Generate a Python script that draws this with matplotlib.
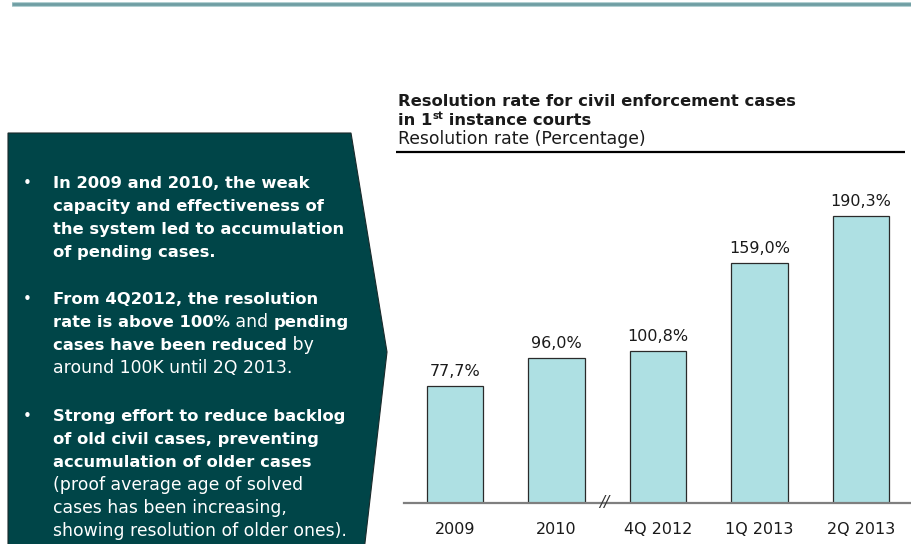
import matplotlib
matplotlib.use("Agg")
import matplotlib.pyplot as plt
from matplotlib.patches import Polygon, Rectangle

categories = ["2009", "2010", "4Q 2012", "1Q 2013", "2Q 2013"]
values = [77.7, 96.0, 100.8, 159.0, 190.3]
value_labels = ["77,7%", "96,0%", "100,8%", "159,0%", "190,3%"]

title_line1 = "Resolution rate for civil enforcement cases"
title_line2 = [("in 1", "bold", 0), ("st", "bold", 1), (" instance courts", "bold", 0)]
subtitle = "Resolution rate (Percentage)"

bullets = [
    [[("In 2009 and 2010, the weak", "bold")],
     [("capacity and effectiveness of", "bold")],
     [("the system led to accumulation", "bold")],
     [("of pending cases.", "bold")]],
    [[("From 4Q2012, the resolution", "bold")],
     [("rate is above 100%", "bold"), (" and ", "normal"), ("pending", "bold")],
     [("cases have been reduced", "bold"), (" by", "normal")],
     [("around 100K until 2Q 2013.", "normal")]],
    [[("Strong effort to reduce backlog", "bold")],
     [("of old civil cases, preventing", "bold")],
     [("accumulation of older cases", "bold")],
     [("(proof average age of solved", "normal")],
     [("cases has been increasing,", "normal")],
     [("showing resolution of older ones).", "normal")]],
]

W, H = 912, 544
fig = plt.figure(figsize=(W / 100, H / 100), dpi=100)
ov = fig.add_axes([0, 0, 1, 1])
ov.set_xlim(0, W)
ov.set_ylim(H, 0)
ov.axis("off")

# top rule
ov.add_patch(Rectangle((12, 1.8), W - 12, 5, color="#b3d0d2", lw=0))
ov.plot([12, W], [4.3, 4.3], color="#6f9ea3", lw=2.0, solid_capstyle="butt")

# dark arrow panel
poly = Polygon([[8, 133], [351, 133], [387, 352], [363, 560], [8, 560]],
               closed=True, facecolor="#004548", edgecolor="#1a2a2b", lw=0.8)
ov.add_patch(poly)

renderer = fig.canvas.get_renderer()
FONT = "DejaVu Sans"
SIZE_BOLD = 11.75
SIZE_NORMAL = 12.4


def draw_segments(x, y, segs, color):
    cx = x
    for s in segs:
        txt, weight = s[0], s[1]
        sup = s[2] if len(s) > 2 else 0
        size = SIZE_BOLD if weight == "bold" else SIZE_NORMAL
        fs = size * (0.62 if sup else 1.0)
        yy = y - (size * 0.5 if sup else 0)
        t = ov.text(cx, yy, txt, fontsize=fs, fontweight=weight, color=color,
                    family=FONT, va="baseline", ha="left")
        bb = t.get_window_extent(renderer=renderer)
        cx += bb.width


bullet_tops = [188, 304, 421]
line_h = 23.1
for bi, lines in enumerate(bullets):
    y0 = bullet_tops[bi]
    ov.text(23, y0, "\u2022", fontsize=11, color="white", family=FONT, va="baseline")
    for li, segs in enumerate(lines):
        draw_segments(53, y0 + li * line_h, segs, "white")

# titles
ov.text(398, 106.5, title_line1, fontsize=SIZE_BOLD, fontweight="bold",
        color="#1a1a1a", family=FONT, va="baseline")
draw_segments(398, 125, title_line2, "#1a1a1a")
ov.text(398, 143.5, subtitle, fontsize=SIZE_NORMAL, color="#1a1a1a", family=FONT,
        va="baseline")
ov.plot([396, 905], [152, 152], color="black", lw=1.6, solid_capstyle="butt")

# bar chart axes
px_per_unit = 101.5
x0_px = 455
left_px, right_px = 404, 912
top_px, base_px = 160, 503
px_per_pct = (503 - 216) / 190.3
ax = fig.add_axes([left_px / W, (H - base_px) / H, (right_px - left_px) / W,
                   (base_px - top_px) / H])
ax.patch.set_alpha(0)
xs = list(range(len(categories)))
ax.bar(xs, values, width=0.56, color="#aee0e3", edgecolor="#2a2a2a", lw=0.9, zorder=2)
ax.set_xlim((left_px - x0_px) / px_per_unit, (right_px - x0_px) / px_per_unit)
ax.set_ylim(0, (base_px - top_px) / px_per_pct)
for sp in ["top", "right", "left"]:
    ax.spines[sp].set_visible(False)
ax.spines["bottom"].set_color("#7f7f7f")
ax.spines["bottom"].set_linewidth(1.6)
ax.set_yticks([])
ax.set_xticks(xs)
ax.set_xticklabels(categories, fontsize=11.5, family=FONT, color="#1a1a1a")
ax.tick_params(axis="x", length=0, pad=14)
for x, v, lab in zip(xs, values, value_labels):
    ax.annotate(lab, (x, v), xytext=(0, 5), textcoords="offset points",
                ha="center", va="bottom", fontsize=11.5, family=FONT, color="#1a1a1a")
ax.text(1.47, 0, "//", ha="center", va="center", fontsize=11, color="#333333",
        family=FONT, style="italic", clip_on=False, zorder=3)

fig.savefig("out.png", dpi=100)
